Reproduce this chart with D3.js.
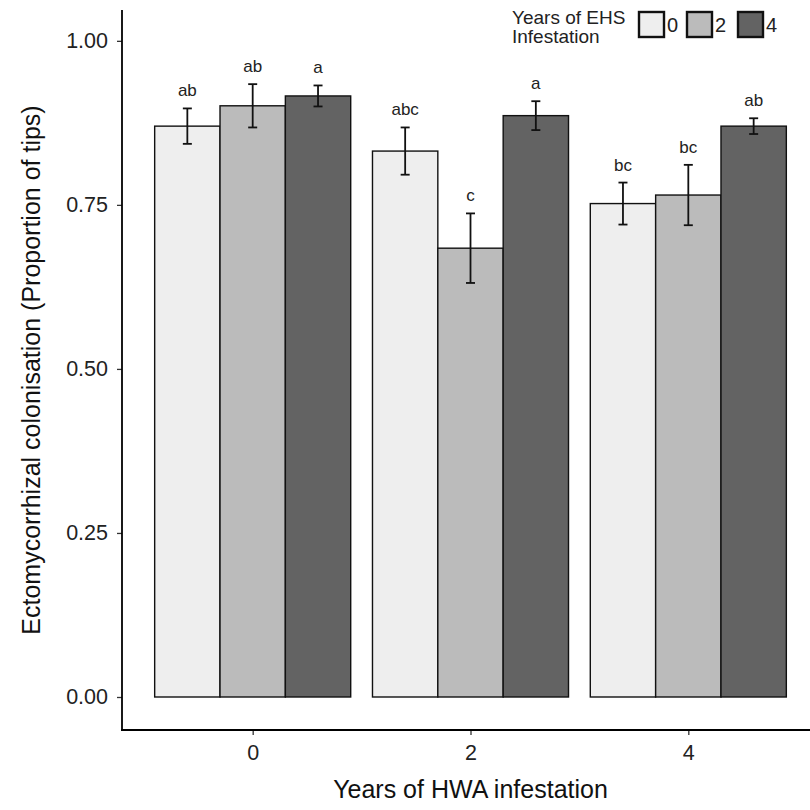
<!DOCTYPE html>
<html>
<head>
<meta charset="utf-8">
<script src="https://cdn.jsdelivr.net/npm/d3@7"></script>
<style>
  html, body { margin: 0; padding: 0; background: #fff; }
  svg { display: block; font-family: "Liberation Sans", Arial, Helvetica, sans-serif; }
</style>
</head>
<body>
<svg id="chart" width="810" height="810"></svg>
<script>
// ---- data ----
const hwaYears = ["0", "2", "4"];           // x categories (Years of HWA infestation)
const ehsYears = ["0", "2", "4"];           // fill groups (Years of EHS infestation)
const meanEHS0 = [0.870, 0.832, 0.752];
const meanEHS2 = [0.901, 0.684, 0.765];
const meanEHS4 = [0.916, 0.886, 0.870];
const seEHS0 = [0.027, 0.036, 0.032];
const seEHS2 = [0.033, 0.053, 0.046];
const seEHS4 = [0.016, 0.022, 0.012];
const lettersEHS0 = ["ab", "abc", "bc"];
const lettersEHS2 = ["ab", "c", "bc"];
const lettersEHS4 = ["a", "a", "ab"];
const yTicks = [0, 0.25, 0.5, 0.75, 1.0];
const fillColors = ["#eeeeee", "#bbbbbb", "#636363"];

const means = [meanEHS0, meanEHS2, meanEHS4];
const ses = [seEHS0, seEHS2, seEHS4];
const letters = [lettersEHS0, lettersEHS2, lettersEHS4];

const rows = [];
hwaYears.forEach((h, i) => {
  ehsYears.forEach((e, j) => {
    rows.push({ hwa: h, ehs: e, mean: means[j][i], se: ses[j][i], letter: letters[j][i], j });
  });
});

// ---- layout ----
const svg = d3.select("#chart");
const panel = { left: 122, right: 819, top: 10, bottom: 730 };

// ggplot-style discrete: centers at 1,2,3 over [0.4, 3.6]
const xc = d3.scaleLinear().domain([0.4, 3.6]).range([panel.left, panel.right]);
const groupWidth = xc(1.9) - xc(1);
const xInner = d3.scaleBand().domain(ehsYears).range([0, groupWidth]);

const y = d3.scaleLinear().domain([-0.0503, 1.047]).range([panel.bottom, panel.top]);

const barX = d => xc(hwaYears.indexOf(d.hwa) + 1) - groupWidth / 2 + xInner(d.ehs);
const cx = d => barX(d) + xInner.bandwidth() / 2;

// bars
const g = svg.append("g");
g.selectAll("rect.bar").data(rows).enter().append("rect")
  .attr("class", "bar")
  .attr("x", barX)
  .attr("width", xInner.bandwidth())
  .attr("y", d => y(d.mean))
  .attr("height", d => y(0) - y(d.mean))
  .attr("fill", d => fillColors[d.j])
  .attr("stroke", "#111")
  .attr("stroke-width", 1.4);

const capW = 4.5;

// error bars
const eb = g.selectAll("g.err").data(rows).enter().append("g").attr("class", "err")
  .attr("stroke", "#111").attr("stroke-width", 1.8);
eb.append("line").attr("x1", cx).attr("x2", cx)
  .attr("y1", d => y(d.mean - d.se)).attr("y2", d => y(d.mean + d.se));
eb.append("line").attr("x1", d => cx(d) - capW).attr("x2", d => cx(d) + capW)
  .attr("y1", d => y(d.mean + d.se)).attr("y2", d => y(d.mean + d.se));
eb.append("line").attr("x1", d => cx(d) - capW).attr("x2", d => cx(d) + capW)
  .attr("y1", d => y(d.mean - d.se)).attr("y2", d => y(d.mean - d.se));

// letters
g.selectAll("text.letter").data(rows).enter().append("text")
  .attr("class", "letter")
  .attr("x", cx)
  .attr("y", d => y(d.mean + d.se) - 12)
  .attr("text-anchor", "middle")
  .attr("font-size", 17)
  .attr("fill", "#222")
  .text(d => d.letter);

// y axis
const yAxis = d3.axisLeft(y).tickValues(yTicks).tickFormat(d3.format(".2f")).tickSize(5).tickPadding(9);
const ya = svg.append("g").attr("transform", `translate(${panel.left},0)`).call(yAxis);
ya.select(".domain").remove();
ya.append("line").attr("x1", 0).attr("x2", 0).attr("y1", panel.top).attr("y2", panel.bottom)
  .attr("stroke", "#000").attr("stroke-width", 1.8);
ya.selectAll(".tick line").attr("stroke", "#333").attr("stroke-width", 1.3);
ya.selectAll(".tick text").attr("font-size", 21.5).attr("fill", "#222")
  .attr("font-family", "Liberation Sans, Arial, sans-serif");

// x axis
const xAxis = d3.axisBottom(xc).tickValues([1, 2, 3]).tickFormat((d, i) => hwaYears[i]).tickSize(5).tickPadding(10);
const xa = svg.append("g").attr("transform", `translate(0,${panel.bottom})`).call(xAxis);
xa.select(".domain").remove();
xa.append("line").attr("x1", panel.left - 1).attr("x2", panel.right).attr("y1", 0).attr("y2", 0)
  .attr("stroke", "#000").attr("stroke-width", 1.8);
xa.selectAll(".tick line").attr("stroke", "#333").attr("stroke-width", 1.3);
xa.selectAll(".tick text").attr("font-size", 21.5).attr("fill", "#222")
  .attr("font-family", "Liberation Sans, Arial, sans-serif");

// axis titles
svg.append("text").attr("x", (panel.left + panel.right) / 2).attr("y", 798)
  .attr("text-anchor", "middle").attr("font-size", 25).attr("fill", "#111")
  .text("Years of HWA infestation");
svg.append("text")
  .attr("transform", `translate(40,${(panel.top + panel.bottom) / 2}) rotate(-90)`)
  .attr("text-anchor", "middle").attr("font-size", 25).attr("fill", "#111")
  .text("Ectomycorrhizal colonisation (Proportion of tips)");

// legend
const lg = svg.append("g").attr("transform", "translate(512,0)");
lg.append("text").attr("x", 0).attr("y", 24).attr("font-size", 19).attr("fill", "#222").text("Years of EHS");
lg.append("text").attr("x", 0).attr("y", 43).attr("font-size", 19).attr("fill", "#222").text("Infestation");
const keyX = [127, 175, 226];
const keys = lg.selectAll("g.key").data(ehsYears).enter().append("g").attr("class", "key")
  .attr("transform", (d, i) => `translate(${keyX[i]},12)`);
keys.append("rect").attr("width", 25).attr("height", 25)
  .attr("fill", (d, i) => fillColors[i]).attr("stroke", "#111").attr("stroke-width", 2.4);
keys.append("text").attr("x", 28).attr("y", 20).attr("font-size", 20).attr("fill", "#222").text(d => d);
</script>
</body>
</html>
